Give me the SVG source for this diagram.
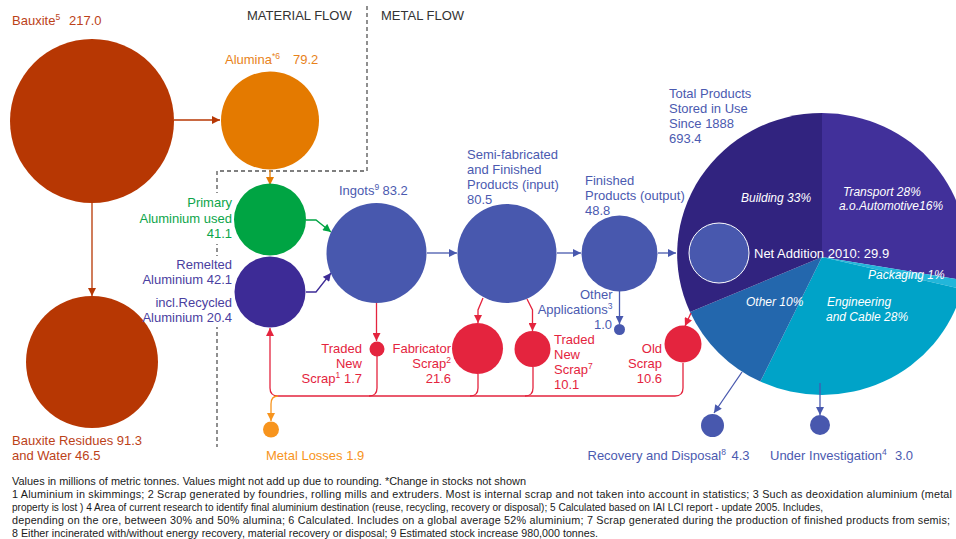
<svg xmlns="http://www.w3.org/2000/svg" width="956" height="539" viewBox="0 0 956 539">
<style>
text{font-family:"Liberation Sans",Arial,sans-serif;font-size:13px}
.sup{font-size:8.5px}
.it{font-style:italic;font-size:12px;fill:#fff}
.blue{fill:#4B5AB0}
.red{fill:#E4243E}
.brown{fill:#BC4219}
.orange{fill:#E8821A}
.green{fill:#0CA54A}
.purple{fill:#4A40A0}
.dark{fill:#333}
.foot{font-size:10.8px;fill:#1a1a1a}
.c{fill:none;stroke-width:1.3}
</style>
<defs>
<marker id="mBr" viewBox="0 0 10 10" refX="10" refY="5" markerWidth="9" markerHeight="8" markerUnits="userSpaceOnUse" orient="auto"><path d="M0,0L10,5L0,10z" fill="#B73703"/></marker>
<marker id="mOr" viewBox="0 0 10 10" refX="10" refY="5" markerWidth="9" markerHeight="8" markerUnits="userSpaceOnUse" orient="auto"><path d="M0,0L10,5L0,10z" fill="#E47A00"/></marker>
<marker id="mLo" viewBox="0 0 10 10" refX="10" refY="5" markerWidth="9" markerHeight="8" markerUnits="userSpaceOnUse" orient="auto"><path d="M0,0L10,5L0,10z" fill="#F7941D"/></marker>
<marker id="mGr" viewBox="0 0 10 10" refX="10" refY="5" markerWidth="9" markerHeight="8" markerUnits="userSpaceOnUse" orient="auto"><path d="M0,0L10,5L0,10z" fill="#00A443"/></marker>
<marker id="mPu" viewBox="0 0 10 10" refX="10" refY="5" markerWidth="9" markerHeight="8" markerUnits="userSpaceOnUse" orient="auto"><path d="M0,0L10,5L0,10z" fill="#3D2B96"/></marker>
<marker id="mBl" viewBox="0 0 10 10" refX="10" refY="5" markerWidth="9" markerHeight="8" markerUnits="userSpaceOnUse" orient="auto"><path d="M0,0L10,5L0,10z" fill="#4858AE"/></marker>
<marker id="mRe" viewBox="0 0 10 10" refX="10" refY="5" markerWidth="9" markerHeight="8" markerUnits="userSpaceOnUse" orient="auto"><path d="M0,0L10,5L0,10z" fill="#E4243E"/></marker>
</defs>
<rect width="956" height="539" fill="#fff"/>

<!-- flow divider -->
<g id="divider">
<path d="M367,6V171H217V447" fill="none" stroke="#555" stroke-width="1.3" stroke-dasharray="4,3"/>
<text x="247" y="20" class="dark">MATERIAL FLOW</text>
<text x="381" y="20" class="dark">METAL FLOW</text>
</g>

<g id="pie">
<path d="M822,257L822,113A145,141 0 0,1 964.4,280.4Z" fill="#41309A"/>
<path d="M822,257L964.4,280.4A145,141 0 0,1 962.4,289.1Z" fill="#22B6DA"/>
<path d="M822,257L962.4,289.1A145,141 0 0,1 760.3,381.6Z" fill="#00A3C8"/>
<path d="M822,257L760.3,381.6A145,141 0 0,1 690,312Z" fill="#2367AD"/>
<path d="M822,257L690,312A145,141 0 0,1 822,113Z" fill="#31237F"/>
<circle cx="719" cy="253" r="30" fill="#4858AE" stroke="#fff" stroke-width="1"/>
<text x="754" y="257.5" fill="#fff">Net Addition 2010: 29.9</text>
<text x="741" y="202" class="it">Building 33%</text>
<text x="843" y="195.5" class="it">Transport 28%</text>
<text x="839" y="209.5" class="it">a.o.Automotive16%</text>
<text x="868" y="279" class="it">Packaging 1%</text>
<text x="746" y="306" class="it">Other 10%</text>
<text x="827" y="306" class="it">Engineering</text>
<text x="826" y="321" class="it">and Cable 28%</text>
<text class="blue"><tspan x="669" y="97.5">Total Products</tspan><tspan x="669" y="112.5">Stored in Use</tspan><tspan x="669" y="127.5">Since 1888</tspan><tspan x="669" y="142.5">693.4</tspan></text>
</g>

<g id="connectors">
<path class="c" stroke="#B73703" d="M174,120H220" marker-end="url(#mBr)"/>
<path class="c" stroke="#B73703" d="M92,203V296" marker-end="url(#mBr)"/>
<path class="c" stroke="#E47A00" d="M270,170V185" marker-end="url(#mOr)"/>
<path class="c" stroke="#00A443" d="M306,220H316L331,232" marker-end="url(#mGr)"/>
<path class="c" stroke="#3D2B96" d="M306,292H316L331,273" marker-end="url(#mPu)"/>
<path class="c" stroke="#4858AE" d="M427,253H457" marker-end="url(#mBl)"/>
<path class="c" stroke="#4858AE" d="M557,253H581" marker-end="url(#mBl)"/>
<path class="c" stroke="#4858AE" d="M658,253H676" marker-end="url(#mBl)"/>
<path class="c" stroke="#4858AE" d="M619.5,291V324" marker-end="url(#mBl)"/>
<path class="c" stroke="#4858AE" d="M742,372L714,413" marker-end="url(#mBl)"/>
<path class="c" stroke="#4858AE" d="M820,383V415" marker-end="url(#mBl)"/>
<path class="c" stroke="#E4243E" d="M376.5,303V341" marker-end="url(#mRe)"/>
<path class="c" stroke="#E4243E" d="M483,298L478,310V323" marker-end="url(#mRe)"/>
<path class="c" stroke="#E4243E" d="M527,299L532.5,310V331" marker-end="url(#mRe)"/>
<path class="c" stroke="#E4243E" d="M691,313L685,326" marker-end="url(#mRe)"/>
<path class="c" stroke="#E4243E" d="M683,363V388Q683,396 675,396H278Q270,396 270,388V328" marker-end="url(#mRe)"/>
<path class="c" stroke="#E4243E" d="M533,367V388Q533,396 525,396"/>
<path class="c" stroke="#E4243E" d="M478,374V388Q478,396 470,396"/>
<path class="c" stroke="#E4243E" d="M377,356V388Q377,396 369,396"/>
<path class="c" stroke="#F7941D" d="M278,396Q271,396 271,404V421" marker-end="url(#mLo)"/>
</g>

<g id="bauxite">
<circle cx="92" cy="121" r="82" fill="#B73703"/>
<text x="12" y="25" class="brown">Bauxite<tspan class="sup" dy="-5">5</tspan><tspan x="69" dy="5">217.0</tspan></text>
</g>
<g id="residues">
<circle cx="92" cy="362" r="66" fill="#B73703"/>
<text class="brown"><tspan x="12" y="444.5">Bauxite Residues 91.3</tspan><tspan x="12" y="460">and Water 46.5</tspan></text>
</g>
<g id="alumina">
<circle cx="270" cy="120.5" r="49" fill="#E47A00"/>
<text x="225" y="64" class="orange">Alumina<tspan class="sup" dy="-5">*6</tspan><tspan x="293" dy="5">79.2</tspan></text>
</g>
<g id="primary">
<circle cx="270" cy="219.5" r="36" fill="#00A443"/>
<rect x="205" y="193" width="28" height="51" fill="#fff"/>
<text class="green" text-anchor="end"><tspan x="232" y="207">Primary</tspan><tspan x="232" y="222.5">Aluminium used</tspan><tspan x="232" y="238">41.1</tspan></text>
</g>
<g id="remelted">
<circle cx="270" cy="292" r="35.5" fill="#3D2B96"/>
<rect x="205" y="256" width="28" height="71" fill="#fff"/>
<text class="purple" text-anchor="end"><tspan x="232" y="269">Remelted</tspan><tspan x="232" y="284">Aluminium 42.1</tspan><tspan x="232" y="306.5">incl.Recycled</tspan><tspan x="232" y="321.5">Aluminium 20.4</tspan></text>
</g>
<g id="ingots">
<circle cx="376.5" cy="253" r="50" fill="#4858AE"/>
<text x="339" y="195" class="blue">Ingots<tspan class="sup" dy="-5">9</tspan><tspan x="382.5" dy="5">83.2</tspan></text>
</g>
<g id="semi">
<circle cx="507" cy="253.5" r="49.5" fill="#4858AE"/>
<text class="blue"><tspan x="467" y="159">Semi-fabricated</tspan><tspan x="467" y="174">and Finished</tspan><tspan x="467" y="189">Products (input)</tspan><tspan x="467" y="204">80.5</tspan></text>
</g>
<g id="finished">
<circle cx="619.5" cy="253.5" r="38" fill="#4858AE"/>
<text class="blue"><tspan x="585" y="184.5">Finished</tspan><tspan x="585" y="199.5">Products (output)</tspan><tspan x="585" y="214.5">48.8</tspan></text>
</g>
<g id="other-applications">
<circle cx="619.5" cy="329.5" r="5.5" fill="#4858AE"/>
<text class="blue" text-anchor="end" x="612.5" y="298.5">Other</text>
<text class="blue" text-anchor="end" x="612.5" y="313.5">Applications<tspan class="sup" dy="-5">3</tspan></text>
<text class="blue" text-anchor="end" x="612" y="328.5">1.0</text>
</g>
<g id="traded-new-scrap-1">
<circle cx="377" cy="349" r="7.5" fill="#E4243E"/>
<text class="red" text-anchor="end" x="362" y="353">Traded</text>
<text class="red" text-anchor="end" x="362" y="368">New</text>
<text class="red" text-anchor="end" x="362" y="383">Scrap<tspan class="sup" dy="-5">1</tspan><tspan dy="5"> 1.7</tspan></text>
</g>
<g id="fabricator-scrap">
<circle cx="477.5" cy="348.5" r="25.5" fill="#E4243E"/>
<text class="red" text-anchor="end" x="451" y="353">Fabricator</text>
<text class="red" text-anchor="end" x="451" y="368">Scrap<tspan class="sup" dy="-5">2</tspan></text>
<text class="red" text-anchor="end" x="451" y="383">21.6</text>
</g>
<g id="traded-new-scrap-7">
<circle cx="532.5" cy="349" r="18" fill="#E4243E"/>
<text class="red"><tspan x="554" y="344">Traded</tspan><tspan x="554" y="359">New</tspan><tspan x="554" y="374">Scrap<tspan class="sup" dy="-5">7</tspan></tspan><tspan x="554" y="389">10.1</tspan></text>
</g>
<g id="old-scrap">
<circle cx="683" cy="344" r="18.5" fill="#E4243E"/>
<text class="red" text-anchor="end"><tspan x="662" y="353">Old</tspan><tspan x="662" y="368">Scrap</tspan><tspan x="662" y="383">10.6</tspan></text>
</g>
<g id="metal-losses">
<circle cx="271" cy="429.5" r="8" fill="#F7941D"/>
<text x="266" y="459.5" fill="#F7941D">Metal Losses 1.9</text>
</g>
<g id="recovery">
<circle cx="712.5" cy="425.5" r="11.5" fill="#4858AE"/>
<text x="587.5" y="459.5" class="blue">Recovery and Disposal<tspan class="sup" dy="-5">8</tspan><tspan x="731.5" dy="5">4.3</tspan></text>
</g>
<g id="under-investigation">
<circle cx="820" cy="425" r="10" fill="#4858AE"/>
<text x="770" y="459.5" class="blue">Under Investigation<tspan class="sup" dy="-5">4</tspan><tspan x="895" dy="5">3.0</tspan></text>
</g>

<g id="footnotes">
<text class="foot" x="12" y="484.5" textLength="514" lengthAdjust="spacingAndGlyphs">Values in millions of metric tonnes. Values might not add up due to rounding. *Change in stocks not shown</text>
<text class="foot" x="12" y="497.7" textLength="940" lengthAdjust="spacing">1 Aluminium in skimmings; 2 Scrap generated by foundries, rolling mills and extruders. Most is internal scrap and not taken into account in statistics; 3 Such as deoxidation aluminium (metal</text>
<text class="foot" x="12" y="510.9" textLength="811" lengthAdjust="spacingAndGlyphs">property is lost ) 4 Area of current research to identify final aluminium destination (reuse, recycling, recovery or disposal); 5 Calculated based on IAI LCI report - update 2005. Includes,</text>
<text class="foot" x="12" y="524.1" textLength="938" lengthAdjust="spacing">depending on the ore, between 30% and 50% alumina; 6 Calculated. Includes on a global average 52% aluminium; 7 Scrap generated during the production of finished products from semis;</text>
<text class="foot" x="12" y="537.3" textLength="586" lengthAdjust="spacingAndGlyphs">8 Either incinerated with/without energy recovery, material recovery or disposal; 9 Estimated stock increase 980,000 tonnes.</text>
</g>
</svg>
